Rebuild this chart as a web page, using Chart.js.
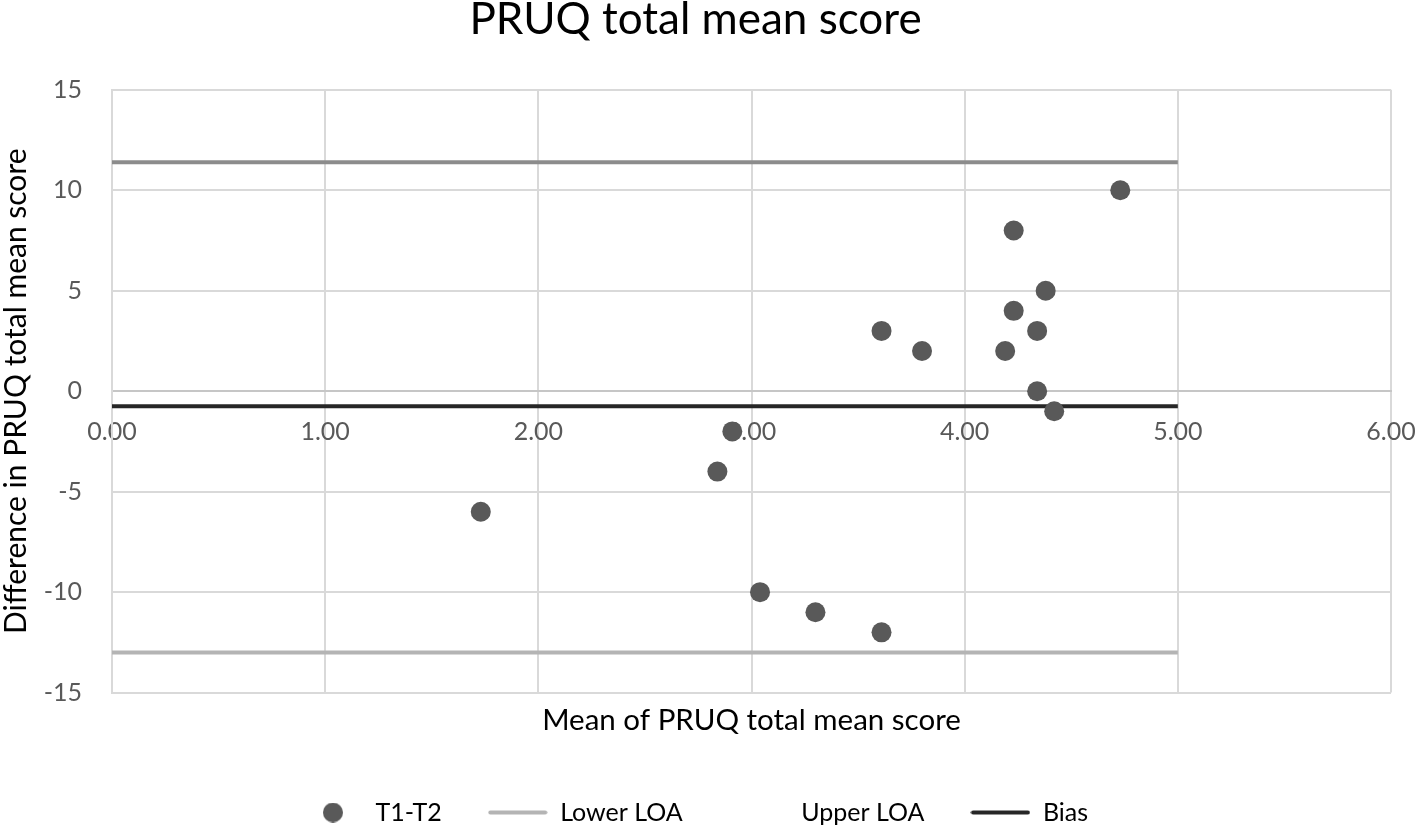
<!DOCTYPE html>
<html>
<head>
<meta charset="utf-8">
<script src="https://cdn.jsdelivr.net/npm/chart.js@4/dist/chart.umd.min.js"></script>
<style>
  html, body { margin: 0; padding: 0; background: #fff; }
  #wrap { width: 1418px; height: 827px; }
</style>
</head>
<body>
<div id="wrap"><canvas id="chart" width="1418" height="827"></canvas></div>
<script>
// mean of T1/T2 (x) vs difference T1-T2 (y)
const meanScores = [1.73, 2.84, 2.91, 3.04, 3.30, 3.61, 3.61, 3.80, 4.19, 4.23, 4.23, 4.34, 4.38, 4.34, 4.42, 4.73];
const diffScores = [-6, -4, -2, -10, -11, -12, 3, 2, 2, 8, 4, 3, 5, 0, -1, 10];

// limits of agreement + bias, drawn from x=0 to x=5
const lineRange = [0, 5];
const upperLOA = 11.4;
const lowerLOA = -13.0;
const bias = -0.75;

const xTicks = [0, 1, 2, 3, 4, 5, 6];
const yTicks = [-15, -10, -5, 0, 5, 10, 15];

const legendNames = ['T1-T2', 'Lower LOA', 'Upper LOA', 'Bias'];

const FONT = 'Lato, "Open Sans", sans-serif';

// little canvases used as legend markers
function dotMarker(color, r) {
    const c = document.createElement('canvas');
    c.width = r * 2; c.height = r * 2;
    const g = c.getContext('2d');
    g.fillStyle = color;
    g.beginPath();
    g.arc(r, r, r, 0, Math.PI * 2);
    g.fill();
    return c;
}
function lineMarker(color, w, h) {
    const c = document.createElement('canvas');
    c.width = w; c.height = h;
    const g = c.getContext('2d');
    if (color) {
        g.strokeStyle = color;
        g.lineWidth = h - 1;
        g.lineCap = 'round';
        g.beginPath();
        g.moveTo(h / 2, h / 2);
        g.lineTo(w - h / 2, h / 2);
        g.stroke();
    }
    return c;
}

const markers = [
    dotMarker('#595959', 10),
    lineMarker('#b4b4b4', 60, 5),
    lineMarker(null, 60, 5),   // upper LOA shows no sample in the original legend
    lineMarker('#262626', 60, 5)
];

const points = meanScores.map((m, i) => ({ x: m, y: diffScores[i] }));
const hLine = v => lineRange.map(x => ({ x: x, y: v }));

// keep the legend short so its row sits near the bottom edge
const legendHeight = {
    id: 'legendHeight',
    beforeUpdate(chart) {
        const lg = chart.legend;
        if (lg && !lg._fixed) {
            const orig = lg.fit.bind(lg);
            lg.fit = function () { orig(); this.height = 73; };
            lg._fixed = true;
        }
    }
};

// no extra side padding from the x labels, layout padding handles it
const noSidePad = s => { s.paddingLeft = 0; s.paddingRight = 0; };

const ctx = document.getElementById('chart').getContext('2d');

new Chart(ctx, {
    type: 'scatter',
    data: {
        datasets: [{
            label: legendNames[0],
            data: points,
            pointRadius: 10,
            pointHoverRadius: 10,
            backgroundColor: '#595959',
            borderWidth: 0
        }, {
            label: legendNames[1],
            data: hLine(lowerLOA),
            showLine: true,
            pointRadius: 0,
            borderColor: '#b4b4b4',
            borderWidth: 4
        }, {
            label: legendNames[2],
            data: hLine(upperLOA),
            showLine: true,
            pointRadius: 0,
            borderColor: '#8c8c8c',
            borderWidth: 4
        }, {
            label: legendNames[3],
            data: hLine(bias),
            showLine: true,
            pointRadius: 0,
            borderColor: '#262626',
            borderWidth: 4
        }]
    },
    plugins: [legendHeight],
    options: {
        responsive: false,
        animation: false,
        layout: {
            padding: { left: 0, right: 27, top: 0, bottom: 0 }
        },
        plugins: {
            title: {
                display: true,
                text: 'PRUQ total mean score',
                color: '#000',
                font: { family: FONT, size: 44, weight: 'normal' },
                padding: { top: -7, bottom: 44 }
            },
            legend: {
                position: 'bottom',
                labels: {
                    usePointStyle: true,
                    pointStyleWidth: 60,
                    boxWidth: 60,
                    boxHeight: 25,
                    padding: 46,
                    color: '#000',
                    font: { family: FONT, size: 25 },
                    generateLabels: () => legendNames.map((name, i) => ({
                        text: name,
                        pointStyle: markers[i],
                        fillStyle: 'transparent',
                        strokeStyle: 'transparent',
                        lineWidth: 0,
                        fontColor: '#000',
                        hidden: false,
                        datasetIndex: i
                    }))
                }
            },
            tooltip: { enabled: false }
        },
        scales: {
            x: {
                type: 'linear',
                position: { y: 0 },
                min: 0,
                max: 6,
                afterBuildTicks: s => { s.ticks = xTicks.map(v => ({ value: v })); },
                afterFit: noSidePad,
                grid: {
                    color: '#d9d9d9',
                    lineWidth: 2,
                    drawTicks: false
                },
                border: { color: '#c6c6c6', width: 2 },
                ticks: {
                    color: '#595959',
                    padding: 26,
                    maxRotation: 0,
                    font: { family: FONT, size: 25 },
                    callback: v => Number(v).toFixed(2)
                }
            },
            xb: {
                type: 'linear',
                position: 'bottom',
                axis: 'x',
                min: 0,
                max: 6,
                afterFit: noSidePad,
                grid: { display: false, drawTicks: false },
                border: { display: false },
                ticks: { display: false },
                title: {
                    display: true,
                    text: 'Mean of PRUQ total mean score',
                    color: '#000',
                    font: { family: FONT, size: 29.5 },
                    padding: { top: 10, bottom: 16 }
                }
            },
            y: {
                type: 'linear',
                position: 'left',
                min: -15,
                max: 15,
                afterBuildTicks: s => { s.ticks = yTicks.map(v => ({ value: v })); },
                afterFit: s => { s.width = 112; },
                grid: {
                    color: '#d9d9d9',
                    lineWidth: 2,
                    drawTicks: false
                },
                border: { color: '#d9d9d9', width: 2 },
                ticks: {
                    color: '#595959',
                    padding: 30,
                    font: { family: FONT, size: 25 }
                },
                title: {
                    display: true,
                    text: 'Difference in PRUQ total mean score',
                    color: '#000',
                    font: { family: FONT, size: 30 },
                    padding: { top: -2, bottom: 0 }
                }
            }
        }
    }
});
</script>
</body>
</html>
